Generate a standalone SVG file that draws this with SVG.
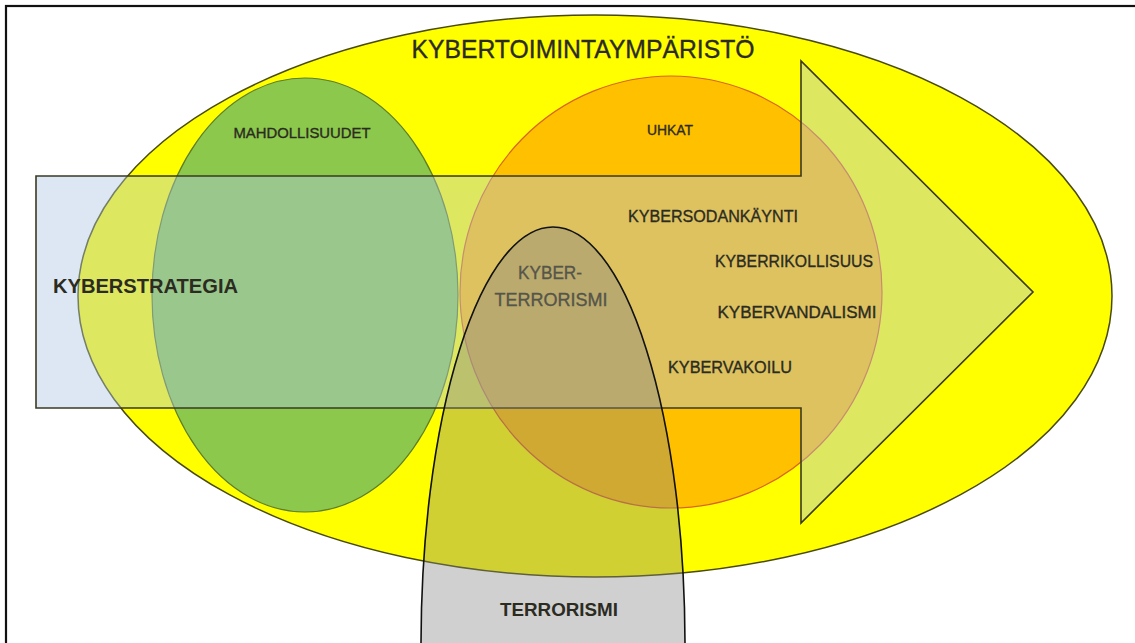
<svg xmlns="http://www.w3.org/2000/svg" width="1135" height="643" viewBox="0 0 1135 643">
  <style>
    .lbl { font-family: "Liberation Sans", Arial, sans-serif; fill: #2b2b22; stroke: #2b2b22; stroke-width: 0.35; }
    .b { font-weight: bold; stroke-width: 0; }
    .dim { fill: #55554a; stroke: #55554a; }
  </style>
  <rect x="0" y="0" width="1135" height="643" fill="#ffffff"/>
  <rect id="frame" x="6" y="6" width="1150" height="700" fill="none" stroke="#111111" stroke-width="2.2"/>

  <g id="kybertoimintaymparisto">
    <ellipse cx="595" cy="296" rx="517" ry="281" fill="#ffff00" stroke="#4a4a10" stroke-width="1.5"/>
  </g>
  <g id="mahdollisuudet">
    <ellipse cx="305" cy="295" rx="153" ry="217" fill="#8cc84c" stroke="#5f7d2a" stroke-width="1.2"/>
  </g>
  <g id="uhkat">
    <ellipse cx="671" cy="292" rx="211" ry="216" fill="#ffc000" stroke="#d9641e" stroke-width="1.2"/>
  </g>
  <g id="kyberstrategia">
    <path d="M36,176 H801 V61 L1033,292 L801,523 V408 H36 Z" fill="#aec6e2" fill-opacity="0.42" stroke="#3a3a22" stroke-width="1.6"/>
  </g>
  <g id="terrorismi">
    <ellipse cx="553" cy="645" rx="132" ry="418" fill="#838383" fill-opacity="0.38" stroke="#111111" stroke-width="1.6"/>
  </g>

  <g id="labels">
    <text class="lbl" x="583" y="58" font-size="26" text-anchor="middle" textLength="343" lengthAdjust="spacingAndGlyphs">KYBERTOIMINTAYMPÄRISTÖ</text>
    <text class="lbl" x="302" y="138" font-size="14" text-anchor="middle" textLength="137" lengthAdjust="spacingAndGlyphs">MAHDOLLISUUDET</text>
    <text class="lbl" x="670" y="135" font-size="14" text-anchor="middle" textLength="46" lengthAdjust="spacingAndGlyphs">UHKAT</text>
    <text class="lbl b" x="53" y="293" font-size="20" textLength="185" lengthAdjust="spacingAndGlyphs" fill="#1c1c24">KYBERSTRATEGIA</text>
    <text class="lbl" x="713" y="222" font-size="17" text-anchor="middle" textLength="170" lengthAdjust="spacingAndGlyphs">KYBERSODANKÄYNTI</text>
    <text class="lbl" x="794" y="267" font-size="17" text-anchor="middle" textLength="158" lengthAdjust="spacingAndGlyphs">KYBERRIKOLLISUUS</text>
    <text class="lbl" x="797" y="318" font-size="17" text-anchor="middle" textLength="159" lengthAdjust="spacingAndGlyphs">KYBERVANDALISMI</text>
    <text class="lbl" x="730" y="373" font-size="17" text-anchor="middle" textLength="124" lengthAdjust="spacingAndGlyphs">KYBERVAKOILU</text>
    <text class="lbl dim" x="550" y="279" font-size="18" text-anchor="middle" textLength="64" lengthAdjust="spacingAndGlyphs">KYBER-</text>
    <text class="lbl dim" x="551" y="306" font-size="18" text-anchor="middle" textLength="113" lengthAdjust="spacingAndGlyphs">TERRORISMI</text>
    <text class="lbl b" x="559" y="616" font-size="18" text-anchor="middle" textLength="118" lengthAdjust="spacingAndGlyphs" fill="#3a3a3a">TERRORISMI</text>
  </g>
</svg>
